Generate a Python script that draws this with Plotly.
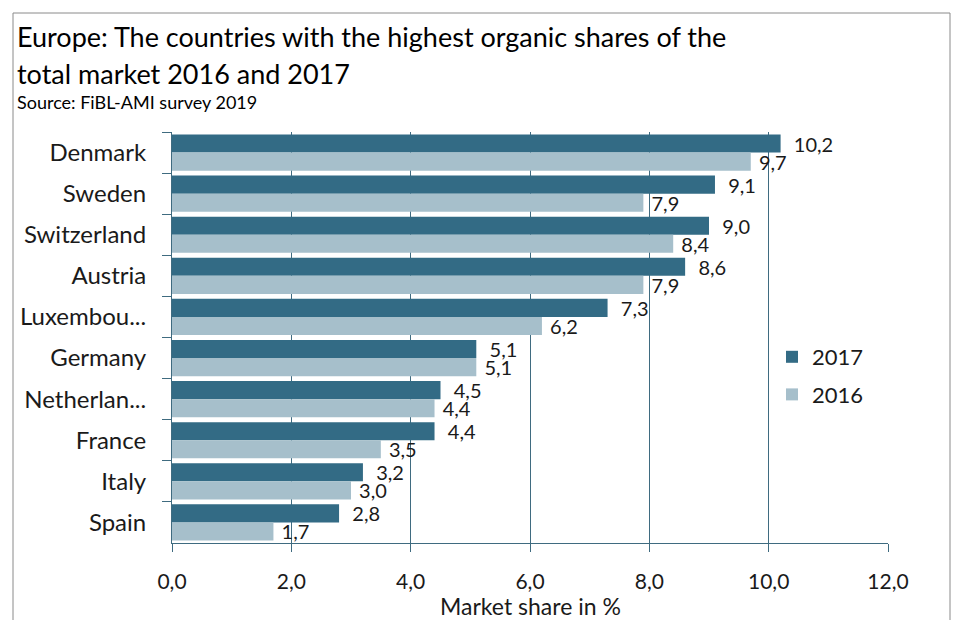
import plotly.graph_objects as go

countries = ["Denmark", "Sweden", "Switzerland", "Austria", "Luxembou...",
             "Germany", "Netherlan...", "France", "Italy", "Spain"]
share_2017 = [10.2, 9.1, 9.0, 8.6, 7.3, 5.1, 4.5, 4.4, 3.2, 2.8]
share_2016 = [9.7, 7.9, 8.4, 7.9, 6.2, 5.1, 4.4, 3.5, 3.0, 1.7]
x_ticks = [0, 2, 4, 6, 8, 10, 12]

FONT = "Lato"
DARK = "#336b85"
LIGHT = "#a6bfcb"
AXIS = "#3f6b80"
TXT = "#1a1a1a"

W, H = 968, 626
L, R, T, B = 172, 80, 132, 83
pw, ph = W - L - R, H - T - B

def px(x):
    return (x - L) / pw

def py(y):
    return (H - B - y) / ph

fig = go.Figure()
fig.add_trace(go.Bar(
    y=countries, x=share_2017, name="2017", orientation="h",
    marker=dict(color=DARK, line=dict(width=0)),
    text=share_2017, texttemplate="  %{x:.1f}", textposition="outside",
    constraintext="none",
    textfont=dict(family=FONT, size=20, color=TXT), cliponaxis=False,
    legendgroup="a",
))
fig.add_trace(go.Bar(
    y=countries, x=share_2016, name="2016", orientation="h",
    marker=dict(color=LIGHT, line=dict(width=0)),
    text=share_2016, texttemplate=" %{x:.1f}", textposition="outside",
    constraintext="none",
    textfont=dict(family=FONT, size=20, color=TXT), cliponaxis=False,
    legendgroup="b",
))

shapes = [
    dict(type="line", xref="paper", yref="paper", x0=px(13), x1=px(13), y0=py(13), y1=py(620),
         line=dict(color="#8a8a8a", width=1)),
    dict(type="line", xref="paper", yref="paper", x0=px(13), x1=px(950), y0=py(13), y1=py(13),
         line=dict(color="#8a8a8a", width=1)),
    dict(type="line", xref="paper", yref="paper", x0=px(950), x1=px(950), y0=py(13), y1=py(620),
         line=dict(color="#8a8a8a", width=1)),
]

annotations = [
    dict(text="Europe: The countries with the highest organic shares of the",
         xref="paper", yref="paper", x=px(15), y=py(37), xanchor="left", yanchor="middle",
         align="left", showarrow=False, font=dict(family=FONT, size=27, color="#000")),
    dict(text="total market 2016 and 2017",
         xref="paper", yref="paper", x=px(15), y=py(73), xanchor="left", yanchor="middle",
         align="left", showarrow=False, font=dict(family=FONT, size=27, color="#000")),
    dict(text="Source: FiBL-AMI survey 2019", xref="paper", yref="paper",
         x=px(15), y=py(102), xanchor="left", yanchor="middle", align="left", showarrow=False,
         font=dict(family=FONT, size=18, color="#000")),
    dict(text="Market share in %", xref="paper", yref="paper", x=0.5, y=py(606),
         xanchor="center", yanchor="middle", showarrow=False,
         font=dict(family=FONT, size=23, color=TXT)),
]

fig.update_layout(
    width=W, height=H,
    margin=dict(l=L, r=R, t=T, b=B, pad=0),
    paper_bgcolor="white", plot_bgcolor="white",
    barmode="group", bargap=0.12, bargroupgap=0,
    separators=",.",
    font=dict(family=FONT, size=20, color=TXT),
    showlegend=True,
    legend=dict(x=px(772), y=py(376), xanchor="left", yanchor="middle",
                font=dict(family=FONT, size=22, color=TXT),
                traceorder="grouped", tracegroupgap=6, bgcolor="rgba(0,0,0,0)"),
    shapes=shapes, annotations=annotations,
    xaxis=dict(range=[0, 12], tickvals=x_ticks, ticktext=[f"{v:.1f}".replace(".", ",") for v in x_ticks],
               showgrid=True, gridcolor=AXIS, gridwidth=1, zeroline=False,
               showline=True, linecolor=AXIS, linewidth=1,
               ticks="outside", ticklen=8, tickcolor=AXIS, ticklabelstandoff=12,
               tickfont=dict(family=FONT, size=21, color=TXT), fixedrange=True),
    yaxis=dict(autorange="reversed", showgrid=False, zeroline=False,
               showline=True, linecolor=AXIS, linewidth=1,
               ticks="outside", ticklen=9, tickcolor=AXIS, tickson="boundaries",
               ticklabelstandoff=20,
               tickfont=dict(family=FONT, size=24, color=TXT)),
)

fig.write_html("out.html")
